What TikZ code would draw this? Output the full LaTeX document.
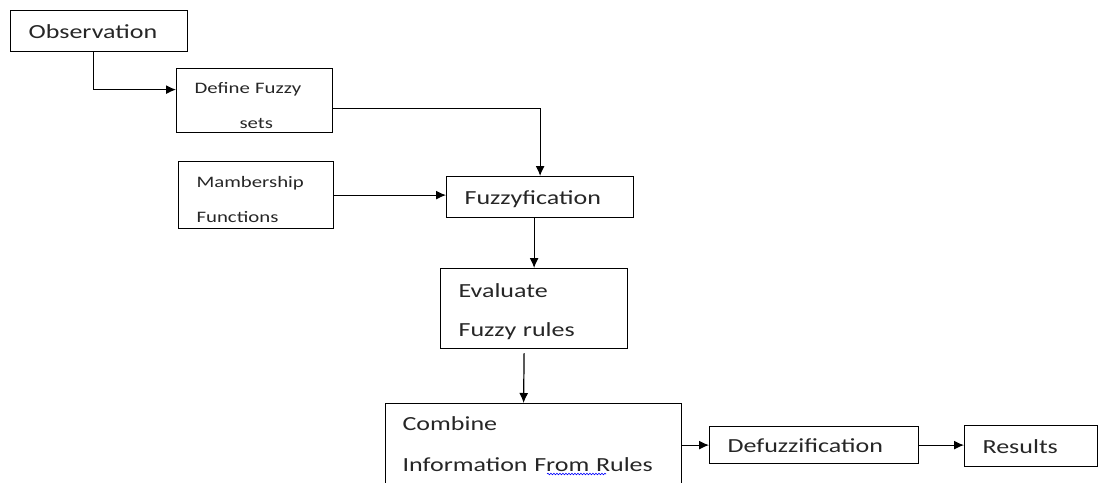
\documentclass[tikz,border=0pt]{standalone}
\usepackage{fontspec}
\setmainfont[FakeStretch=1.3]{Carlito}
\usetikzlibrary{arrows.meta,decorations.pathmorphing}
\tikzset{blk/.style={draw, anchor=north west, align=left, inner xsep=18pt, inner ysep=0pt, text=black!85}, one/.style={text depth=0pt}, big/.style={font=\fontsize{20}{41}\selectfont}, small/.style={font=\fontsize{16}{35}\selectfont}, flow/.style={-{Latex[length=10pt,width=9pt]}}}

\begin{document}
\begin{tikzpicture}[x=1pt,y=-1pt,line width=1.2pt]
     \clip (0,0) rectangle (1099,482);
     \node[blk,one,big,minimum width=177pt,minimum height=41pt,text width=141pt] (obs) at (10,10) {Observation};
     \node[blk,small,minimum width=156pt,minimum height=64pt,text width=120pt] (def) at (176,68) {\rule{0pt}{20pt}Define Fuzzy\\\hspace*{45pt}sets};
     \node[blk,small,minimum width=155pt,minimum height=67pt,text width=119pt] (mem) at (178,161) {\rule{0pt}{19pt}Mambership\\Functions};
     \node[blk,one,big,minimum width=187pt,minimum height=41pt,text width=151pt] (fuz) at (446,176) {Fuzzyfication};
     \node[blk,font=\fontsize{20}{39}\selectfont,minimum width=187pt,minimum height=80pt,text width=151pt] (eval) at (440,268) {\rule{0pt}{21pt}Evaluate\\Fuzzy rules};
     \node[blk,big,minimum width=296pt,text width=262pt,inner xsep=17pt,inner ysep=13pt] (comb) at (385,403) {Combine\\Information From Rules};
     \node[blk,one,big,minimum width=209pt,minimum height=37pt,text width=173pt] (defz) at (709,426) {Defuzzification};
     \node[blk,one,big,minimum width=133pt,minimum height=41pt,text width=97pt] (res) at (964,425) {Results};
     \draw[flow] ([xshift=-6pt]obs.south) |- ([yshift=11pt]def.west);
     \draw[flow] ([yshift=-8pt]def.east) -| (fuz.north);
     \draw[flow] (mem.east) -- (mem.east -| fuz.west);
     \draw[flow] (fuz.south -| eval.north) -- (eval.north);
     \draw[flow] ([xshift=-10pt,yshift=-4pt]eval.south) -- ([xshift=-10pt]comb.north);
     \draw[flow] (defz.west -| comb.east) -- (defz.west);
     \draw[flow] (defz.east) -- (defz.east -| res.west);
     \draw[blue,line width=0.6pt,decorate,decoration={snake,amplitude=0.8pt,segment length=3pt}] (547,474) -- (606,474);
\end{tikzpicture}
\end{document}
